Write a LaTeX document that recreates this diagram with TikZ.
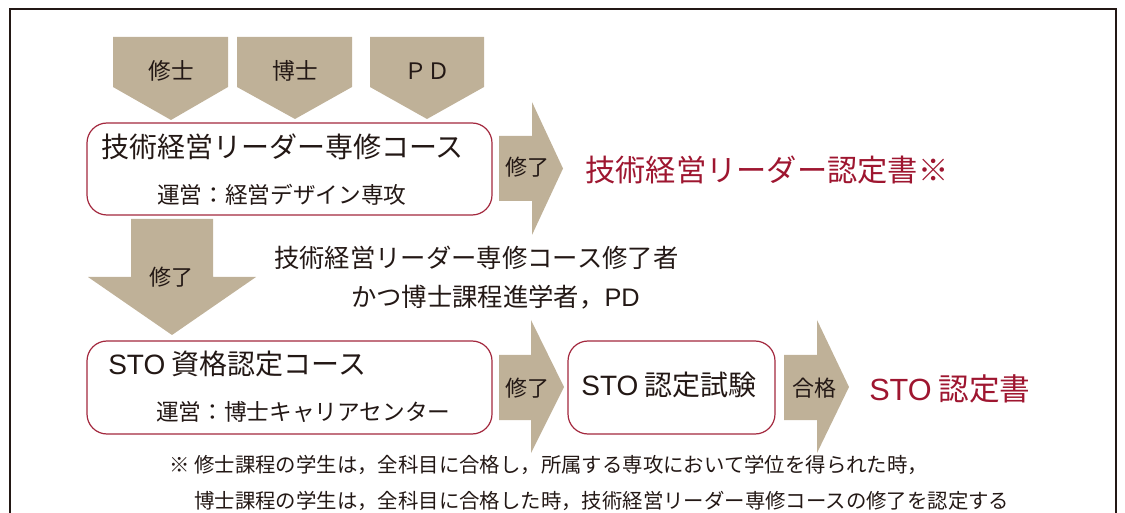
\documentclass[tikz,border=0pt]{standalone}
\usepackage{fontspec}
\setmainfont{Noto Sans CJK JP}
\newfontfamily\latinsans{Liberation Sans}
\usepackage{tikz}
\definecolor{tanfill}{RGB}{191,177,152}
\definecolor{certred}{RGB}{158,22,48}
\definecolor{boxred}{RGB}{163,40,62}
\definecolor{inkc}{RGB}{35,24,21}

\begin{document}
\begin{tikzpicture}[x=0.75pt,y=0.75pt,yscale=-1,xscale=1,
    blockarrow/.style={fill=tanfill, draw=none},
    coursebox/.style={draw=boxred, line width=0.9pt, rounded corners=15pt, fill=white, inner sep=0pt},
    txt/.style={inner sep=0.75pt, text=inkc}]
    \useasboundingbox (0,0) rectangle (1125,513);

    %Frame
    \draw [line width=1.5pt, inkc] (10,513) -- (10,9) -- (1116,9) -- (1116,513) ;

    %Shape: Pentagons (entrants)
    \fill [blockarrow] (113,37) -- (228,37) -- (228,87) -- (171,120) -- (113,87) -- cycle ;
    \fill [blockarrow] (237,37) -- (352,37) -- (352,87) -- (295,119) -- (237,87) -- cycle ;
    \fill [blockarrow] (370,37) -- (484,37) -- (484,87) -- (427,119) -- (370,87) -- cycle ;

    %Shape: Course boxes
    \node [coursebox, minimum width=303.75pt, minimum height=69pt] (lead) at (289.5,169) {};
    \node [coursebox, minimum width=303.75pt, minimum height=69.75pt] (sto) at (289.5,387.5) {};
    \node [coursebox, minimum width=155.25pt, minimum height=69.75pt] (exam) at (671.5,387.5) {};

    %Shape: Right arrows
    \fill [blockarrow] (499,136) -- (532,136) -- (532,102) -- (563,168.5) -- (532,235) -- (532,201) -- (499,201) -- cycle ;
    \fill [blockarrow] (499,355) -- (531,355) -- (531,320) -- (564,387) -- (531,453) -- (531,420) -- (499,420) -- cycle ;
    \fill [blockarrow] (784,355) -- (817,355) -- (817,320) -- (849,387) -- (817,453) -- (817,420) -- (784,420) -- cycle ;
    %Shape: Down arrow
    \fill [blockarrow] (131,219) -- (213,219) -- (213,277) -- (256,277) -- (172,335) -- (88,277) -- (131,277) -- cycle ;

    % Text Node
    \node [txt, font=\fontsize{17}{17}\selectfont] (master) at (171,71) {修士};
    \node [txt, font=\fontsize{17}{17}\selectfont] (doctor) at (295,71) {博士};
    \node [txt, font=\fontsize{17}{17}\selectfont] (postdoc) at (427,71) {ＰＤ};
    % Text Node
    \node [txt, anchor=west, font=\fontsize{21}{21}\selectfont] (leadname) at (100,147) {技術経営リーダー専修コース};
    \node [txt, anchor=west, font=\fontsize{17}{17}\selectfont] (leadrun) at (156,195) {運営：経営デザイン専攻};
    % Text Node
    \node [txt, font=\fontsize{16.5}{16.5}\selectfont] (done1) at (527,167) {修了};
    \node [txt, anchor=west, text=certred, font=\fontsize{22.7}{22.7}\selectfont] (leadcert) at (584,170) {技術経営リーダー認定書※};
    % Text Node
    \node [txt, font=\fontsize{16.5}{16.5}\selectfont] (done2) at (171,277) {修了};
    \node [txt, anchor=west, font=\fontsize{19}{19}\selectfont] (cond1) at (273,258) {技術経営リーダー専修コース修了者};
    \node [txt, anchor=west, font=\fontsize{19}{19}\selectfont] (cond2) at (350,297) {かつ博士課程進学者，{\latinsans PD}};
    % Text Node
    \node [txt, anchor=west, font=\fontsize{21}{21}\selectfont] (stoname) at (107,364) {{\latinsans STO} 資格認定コース};
    \node [txt, anchor=west, font=\fontsize{17}{17}\selectfont] (storun) at (155,412) {運営：博士キャリアセンター};
    \node [txt, font=\fontsize{16.5}{16.5}\selectfont] (done3) at (527,388) {修了};
    \node [txt, font=\fontsize{21}{21}\selectfont] (examname) at (669,385) {{\latinsans STO} 認定試験};
    \node [txt, font=\fontsize{16.5}{16.5}\selectfont] (pass) at (814,388) {合格};
    \node [txt, anchor=west, text=certred, font=\fontsize{23}{23}\selectfont] (stocert) at (868,389) {{\latinsans STO} 認定書};
    % Text Node
    \node [txt, anchor=west, font=\fontsize{15.3}{15.3}\selectfont] (note1) at (168,465) {※ 修士課程の学生は，全科目に合格し，所属する専攻において学位を得られた時，};
    \node [txt, anchor=west, font=\fontsize{15.3}{15.3}\selectfont] (note2) at (193,501) {博士課程の学生は，全科目に合格した時，技術経営リーダー専修コースの修了を認定する};
\end{tikzpicture}
\end{document}
